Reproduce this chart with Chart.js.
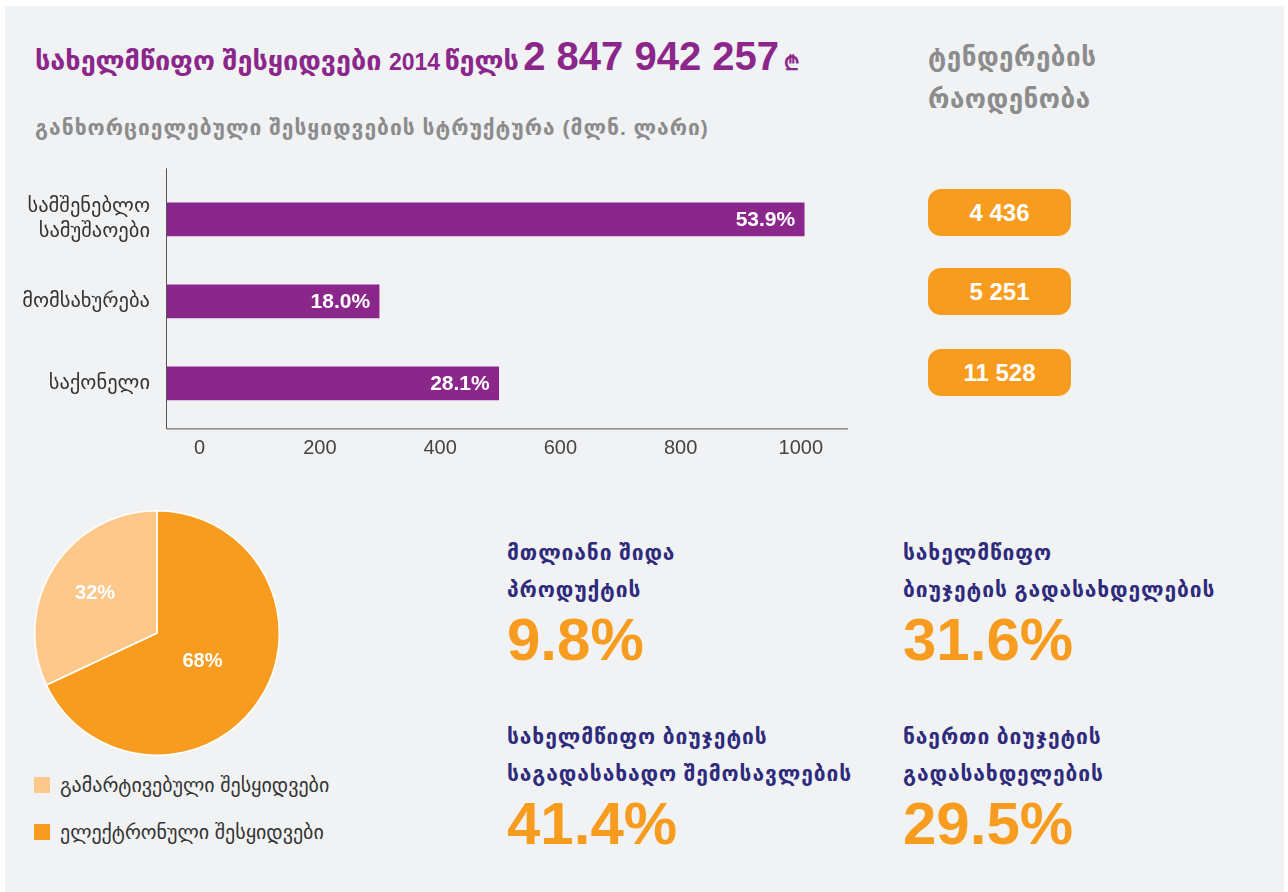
<!DOCTYPE html>
<html>
<head>
<meta charset="utf-8">
<script src="https://cdn.jsdelivr.net/npm/chart.js@4.4.1/dist/chart.umd.min.js"></script>
<style>
  html, body { margin: 0; padding: 0; background: #ffffff; width: 1288px; height: 892px; overflow: hidden; }
  body { font-family: "Liberation Sans", "DejaVu Sans", sans-serif; position: relative; }
  #panel { position: absolute; left: 5px; top: 6px; width: 1279px; height: 886px; background: #f1f2f4; }
  .abs { position: absolute; white-space: nowrap; }
  #title { left: 35px; top: 34px; color: #8b268b; font-weight: bold; }
  #title .geo { font-size: 27px; }
  #title .yr { font-size: 23px; margin-left: 3px; }
  #title .big { font-size: 40px; }
  #title .cur { font-size: 20px; }
  #subtitle { left: 35px; top: 116px; color: #8c8c8c; font-weight: bold; font-size: 21px; letter-spacing: 1px; }
  #tenderHead { left: 928px; top: 36px; color: #8c8c8c; font-size: 26px; line-height: 42px; font-weight: bold; letter-spacing: 0.5px; }
  .pill { position: absolute; left: 928px; width: 143px; height: 47px; border-radius: 13px; background: #f79c1f; color: #fff; font-weight: bold; font-size: 24px; line-height: 47px; text-align: center; font-family: "Liberation Sans", sans-serif; }
  .stat { position: absolute; }
  .stat .lbl { color: #2e2b7c; font-weight: bold; font-size: 21px; line-height: 37px; letter-spacing: 0.9px; }
  .stat .val { color: #f79c1f; font-weight: bold; font-size: 60px; line-height: 60px; margin-top: 2px; font-family: "Liberation Sans", sans-serif; }
  #legend { left: 34px; top: 777px; font-size: 20px; color: #333; }
  #legend .row { height: 47px; display: flex; align-items: flex-start; }
  #legend .sw { width: 16px; height: 16px; margin-right: 10px; margin-top: 0px; }
  #legend .tx { line-height: 16px; }
  canvas { display: block; }
</style>
</head>
<body>
<div id="panel"></div>
<div id="title" class="abs"><span class="geo">სახელმწიფო შესყიდვები</span> <span class="yr">2014</span> <span class="geo">წელს</span> <span class="big">2 847 942 257</span> <span class="cur">₾</span></div>
<div id="subtitle" class="abs">განხორციელებული შესყიდვების სტრუქტურა (მლნ. ლარი)</div>
<div id="tenderHead" class="abs">ტენდერების<br>რაოდენობა</div>
<div id="pills"></div>
<div class="abs" style="left:0;top:150px;width:870px;height:315px;"><canvas id="bar"></canvas></div>
<div class="abs" style="left:34px;top:510px;width:246px;height:246px;"><canvas id="pie"></canvas></div>
<div id="legend" class="abs"></div>
<div id="stats"></div>
<script>
// ---- data ----
const barCategories = [["სამშენებლო", "სამუშაოები"], "მომსახურება", "საქონელი"];
const barShares = [53.9, 18.0, 28.1];            // % of total procurement
const axisTickLabels = [0, 200, 400, 600, 800, 1000];   // (მლნ. ლარი) axis labels
const tenderCounts = ["4 436", "5 251", "11 528"];
const pieLabels = ["ელექტრონული შესყიდვები", "გამარტივებული შესყიდვები"];
const pieValues = [68, 32];
const legendOrder = [1, 0];
const statLabels = [
  ["მთლიანი შიდა", "პროდუქტის"],
  ["სახელმწიფო", "ბიუჯეტის გადასახდელების"],
  ["სახელმწიფო ბიუჯეტის", "საგადასახადო შემოსავლების"],
  ["ნაერთი ბიუჯეტის", "გადასახდელების"]
];
const statValues = ["9.8%", "31.6%", "41.4%", "29.5%"];

// ---- colours ----
const PURPLE = "#8b268b";
const ORANGE = "#f79c1f";
const LIGHT_ORANGE = "#fdc88a";
const NUMFONT = "'Liberation Sans', 'DejaVu Sans', sans-serif";
const GEOFONT = "'DejaVu Sans', sans-serif";

// ---- HTML side blocks ----
const pillTops = [189, 268, 349];
const pills = document.getElementById("pills");
tenderCounts.forEach((t, i) => {
  const d = document.createElement("div");
  d.className = "pill"; d.style.top = pillTops[i] + "px"; d.textContent = t;
  pills.appendChild(d);
});
const statPos = [[507, 534], [903, 534], [507, 718], [903, 718]];
const stats = document.getElementById("stats");
statLabels.forEach((lines, i) => {
  const d = document.createElement("div");
  d.className = "stat"; d.style.left = statPos[i][0] + "px"; d.style.top = statPos[i][1] + "px";
  d.innerHTML = lines.map(l => '<div class="lbl">' + l + '</div>').join("") + '<div class="val">' + statValues[i] + '</div>';
  stats.appendChild(d);
});
const pieColors = [ORANGE, LIGHT_ORANGE];
const legend = document.getElementById("legend");
legendOrder.forEach(i => {
  const r = document.createElement("div"); r.className = "row";
  r.innerHTML = '<div class="sw" style="background:' + pieColors[i] + '"></div><div class="tx">' + pieLabels[i] + '</div>';
  legend.appendChild(r);
});

// ---- bar chart ----
const axisLines = {
  id: "axisLines",
  afterDraw(chart) {
    const { ctx, chartArea: a } = chart;
    ctx.save();
    ctx.strokeStyle = "#555"; ctx.lineWidth = 1;
    ctx.beginPath();
    ctx.moveTo(a.left + 0.5, a.top - 10);
    ctx.lineTo(a.left + 0.5, a.bottom + 4.5);
    ctx.lineTo(a.right, a.bottom + 4.5);
    ctx.stroke();
    ctx.restore();
  }
};
const barLabels = {
  id: "barLabels",
  afterDatasetsDraw(chart) {
    const { ctx } = chart;
    const meta = chart.getDatasetMeta(0);
    ctx.save();
    ctx.fillStyle = "#fff";
    ctx.font = "bold 21px " + NUMFONT;
    ctx.textAlign = "right"; ctx.textBaseline = "middle";
    meta.data.forEach((bar, i) => {
      ctx.fillText(barShares[i].toFixed(1) + "%", bar.x - 9, bar.y + 1);
    });
    ctx.restore();
  }
};
new Chart(document.getElementById("bar"), {
  type: "bar",
  data: {
    labels: barCategories,
    datasets: [{ data: barShares, backgroundColor: PURPLE, barThickness: 33, borderWidth: 0 }]
  },
  options: {
    indexAxis: "y",
    responsive: true, maintainAspectRatio: false, animation: false,
    layout: { padding: { top: 23, right: 22, left: 0, bottom: 0 } },
    plugins: { legend: { display: false }, tooltip: { enabled: false } },
    scales: {
      y: {
        grid: { display: false, drawTicks: false }, border: { display: false },
        ticks: { color: "#333", font: { family: GEOFONT, size: 20.5, lineHeight: 1.2 }, padding: 16 },
        afterFit(s) { s.width = 166; }
      },
      x: {
        min: 0, max: 57.6, display: false
      },
      xTicks: {
        type: "linear", position: "bottom", min: -56, max: 1078.5,
        grid: { display: false }, border: { display: false },
        afterBuildTicks(s) { s.ticks = axisTickLabels.map(v => ({ value: v })); },
        ticks: { color: "#444", font: { family: NUMFONT, size: 20 }, padding: 4, maxRotation: 0, autoSkip: false,
                 callback: v => String(v) },
        afterFit(s) { s.height = 40; }
      }
    }
  },
  plugins: [axisLines, barLabels]
});

// ---- pie chart ----
const pieLabelPlugin = {
  id: "pieLabels",
  afterDatasetsDraw(chart) {
    const { ctx } = chart;
    const meta = chart.getDatasetMeta(0);
    ctx.save();
    ctx.fillStyle = "#fff";
    ctx.font = "bold 20px " + NUMFONT;
    ctx.textAlign = "center"; ctx.textBaseline = "middle";
    meta.data.forEach((arc, i) => {
      const mid = (arc.startAngle + arc.endAngle) / 2;
      const r = arc.outerRadius * (i === 0 ? 0.44 : 0.6);
      ctx.fillText(pieValues[i] + "%", arc.x + Math.cos(mid) * r, arc.y + Math.sin(mid) * r);
    });
    ctx.restore();
  }
};
new Chart(document.getElementById("pie"), {
  type: "pie",
  data: {
    labels: pieLabels,
    datasets: [{ data: pieValues, backgroundColor: pieColors, borderColor: "#ffffff", borderWidth: 1.5 }]
  },
  options: {
    responsive: true, maintainAspectRatio: false, animation: false,
    plugins: { legend: { display: false }, tooltip: { enabled: false } }
  },
  plugins: [pieLabelPlugin]
});
</script>
</body>
</html>
